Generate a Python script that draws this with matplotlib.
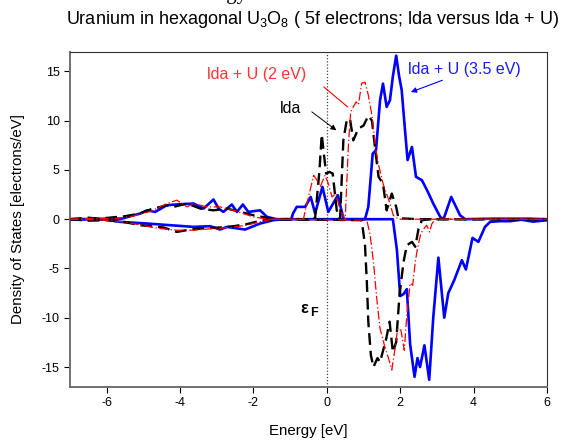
import numpy as np
import matplotlib
matplotlib.use("Agg")
import matplotlib.pyplot as plt

plt.rcParams['font.family'] = ['Liberation Sans', 'DejaVu Sans']
plt.rcParams['mathtext.fontset'] = 'custom'
plt.rcParams['mathtext.rm'] = 'Liberation Sans'
plt.rcParams['mathtext.it'] = 'Liberation Sans:italic'
plt.rcParams['mathtext.bf'] = 'Liberation Sans:bold'
plt.rcParams['axes.unicode_minus'] = False

# lda + U (3.5 eV), spin up / spin down
e_u35_up = [-7.0, -5.6, -5.45, -5.09, -4.90, -4.68, -4.36, -4.0, -3.63, -3.36, -3.09, -2.95,
            -2.82, -2.59, -2.45, -2.29, -2.14, -1.82, -1.63, -1.36, -0.97, -0.92, -0.82, -0.59,
            -0.44, -0.32, -0.12, 0.04, 0.30, 0.45, 0.5, 1.04, 1.13, 1.25, 1.34, 1.45, 1.53,
            1.63, 1.72, 1.80, 1.89, 1.97, 2.04, 2.12, 2.20, 2.32, 2.43, 2.59, 2.75, 2.90, 3.09,
            3.18, 3.39, 3.63, 3.77, 4.5, 5.5, 6.0]
d_u35_up = [0, 0.05, 0.2, 0.58, 0.9, 0.74, 1.42, 1.52, 1.59, 1.08, 2.0, 1.08,
            0.74, 1.49, 0.74, 1.49, 0.74, 0.9, 0.23, 0.0, 0.0, 0.6, 1.25, 1.25,
            2.26, 0.6, 3.28, 0.74, 2.43, 0.1, 0.0, 0.0, 1.25, 6.66, 7.0, 12.07, 13.76,
            11.4, 12.07, 14.5, 16.6, 14.5, 13.1, 9.5, 6.0, 7.33, 4.3, 3.96, 2.8, 1.59, 0.23,
            0.0, 2.26, 0.4, 0.0, 0.05, 0.05, 0.0]
e_u35_dn = [-7.0, -6.0, -5.63, -4.90, -4.27, -3.63, -3.18, -2.91, -2.72, -2.23, -1.82, -1.46,
            -1.2, 1.80, 1.91, 2.0, 2.09, 2.18, 2.27, 2.39, 2.47, 2.54, 2.66, 2.79, 2.90, 3.04,
            3.20, 3.31, 3.47, 3.68, 3.79, 3.97, 4.13, 4.31, 4.45, 4.72, 5.0, 5.3, 5.62, 6.0]
d_u35_dn = [0, -0.05, -0.27, -0.44, -0.61, -0.78, -0.71, -1.05, -0.78, -1.05, -0.44, -0.1,
            0, 0, -3.14, -7.8, -7.6, -7.1, -12.7, -16.0, -14.1, -15.0, -12.8, -16.3, -10.0, -3.9,
            -10.0, -7.5, -6.2, -4.16, -5.1, -1.9, -2.3, -0.78, -0.27, -0.2, -0.2, -0.05, -0.25, -0.1]

# lda, spin up / spin down
e_lda_up = [-7.0, -6.5, -6.2, -5.8, -5.5, -5.09, -4.8, -4.36, -4.18, -3.81, -3.45, -3.09,
            -2.72, -2.36, -2.0, -1.63, -1.3, -0.45, -0.32, -0.2, -0.14, -0.02, 0.07, 0.16,
            0.27, 0.36, 0.45, 0.54, 0.63, 0.72, 0.86, 1.0, 1.13, 1.23, 1.32, 1.41, 1.53,
            1.63, 1.77, 1.89, 1.95, 2.5, 6.0]
d_lda_up = [0, 0.15, 0.05, 0.2, 0.3, 0.58, 1.0, 1.42, 1.25, 1.59, 1.08, 0.9,
            1.08, 0.74, 0.4, 0.14, 0, 0, 0.1, 5.0, 8.6, 4.63, 4.8, 4.63,
            0.9, 0.0, 8.0, 10.0, 10.2, 8.0, 9.2, 9.5, 10.5, 10.0, 7.0, 4.3, 3.6,
            0.9, 2.6, 1.25, 0.1, 0, 0]
e_lda_dn = [-7.0, -6.5, -6.0, -5.5, -5.09, -4.45, -4.09, -3.72, -3.45, -2.91, -2.54, -2.18,
            -1.82, -1.5, 0.95, 1.04, 1.09, 1.13, 1.20, 1.27, 1.38, 1.45, 1.62, 1.71, 1.80,
            1.89, 1.98, 2.09, 2.18, 2.32, 2.41, 2.50, 2.59, 2.8, 6.0]
d_lda_dn = [0, -0.15, -0.1, -0.3, -0.61, -0.84, -1.29, -1.05, -0.95, -0.84, -0.71, -0.5,
            -0.17, 0, -0.1, -2.64, -6.36, -10.4, -13.8, -15.0, -14.1, -14.5, -12.1, -10.4, -13.5,
            -12.45, -7.7, -4.33, -2.64, -2.3, -2.8, -0.95, -0.1, 0, 0]

# lda + U (2 eV), spin up / spin down
e_u2_up = [-7.0, -6.3, -5.8, -5.3, -4.8, -4.36, -4.09, -3.81, -3.63, -3.27, -2.91, -2.54,
           -2.0, -1.6, -0.64, -0.5, -0.36, -0.27, -0.18, -0.05, 0.04, 0.14, 0.25, 0.36, 0.5,
           0.59, 0.65, 0.72, 0.80, 0.86, 0.95, 1.04, 1.13, 1.23, 1.32, 1.41, 1.54, 1.72,
           1.81, 1.95, 6.0]
d_u2_up = [0, 0.1, 0.05, 0.3, 0.8, 1.59, 1.93, 1.25, 1.59, 1.25, 1.25, 0.9,
           0.23, 0, 0, 2.26, 4.46, 3.96, 3.28, 4.46, 3.62, 2.26, 2.6, 0.9, 0,
           7.68, 10.9, 11.4, 11.9, 11.6, 13.8, 13.9, 12.6, 10.5, 7.5, 5.5, 3.5, 1.6,
           0.4, 0, 0]
e_u2_dn = [-7.0, -6.0, -5.5, -4.54, -4.09, -3.63, -3.09, -2.63, -2.18, -1.82, -1.5, 1.09,
           1.18, 1.27, 1.36, 1.45, 1.59, 1.68, 1.77, 1.86, 1.93, 2.02, 2.11, 2.18, 2.27,
           2.34, 2.41, 2.47, 2.56, 2.65, 2.72, 2.80, 2.86, 2.95, 6.0]
d_u2_dn = [0, -0.1, -0.3, -0.95, -1.12, -1.12, -0.95, -0.84, -0.6, -0.27, 0, -0.1,
           -1.6, -4.3, -8.05, -11.1, -13.1, -14.1, -15.3, -13.1, -11.1, -11.26, -13.3, -9.74, -6.5,
           -6.7, -4.33, -2.97, -1.45, -0.95, -0.61, -1.3, -0.5, 0, 0]

fig = plt.figure(figsize=(5.66, 4.41), dpi=100)
ax = fig.add_axes([0.1237, 0.1231, 0.8427, 0.7597])

ax.axvline(0, color='#444444', lw=0.9, ls=(0, (1, 1.5)), zorder=1)

blue_kw = dict(color='#0000ff', lw=1.9, zorder=2)
red_kw = dict(color='#ff0000', lw=0.9, ls=(0, (7, 2, 1, 2)), zorder=4)
black_kw = dict(color='black', lw=1.7, ls=(0, (5, 2.5)), zorder=3)

ax.plot(e_u35_up, d_u35_up, **blue_kw)
ax.plot(e_u35_dn, d_u35_dn, **blue_kw)
ax.plot(e_lda_up, d_lda_up, **black_kw)
ax.plot(e_lda_dn, d_lda_dn, **black_kw)
ax.plot(e_u2_up, d_u2_up, **red_kw)
ax.plot(e_u2_dn, d_u2_dn, **red_kw)

ax.set_xlim(-7, 6)
ax.set_ylim(-17, 17)
ax.set_xticks(np.arange(-6, 7, 2))
ax.set_yticks(np.arange(-15, 16, 5))
ax.tick_params(direction='out', length=4, width=0.8, labelsize=9, top=False, right=False)
for s in ['left', 'bottom']:
    ax.spines[s].set_color('#707070')
    ax.spines[s].set_linewidth(1.4)
for s in ['top', 'right']:
    ax.spines[s].set_color('#303030')
    ax.spines[s].set_linewidth(0.8)

ax.set_xlabel('Energy [eV]', fontsize=10.8, labelpad=11)
ax.set_ylabel('Density of States [electrons/eV]', fontsize=10.8, labelpad=12)

# annotations
ax.text(-3.26, 14.7, 'lda + U (2 eV)', color='#ff3333', fontsize=11.5, va='center', ha='left')
ax.annotate('', xy=(0.63, 11.2), xytext=(-0.14, 13.6),
            arrowprops=dict(arrowstyle='-', color='#ff0000', lw=0.8))
ax.text(-1.27, 11.2, 'lda', color='black', fontsize=11.5, va='center', ha='left')
ax.annotate('', xy=(0.32, 8.85), xytext=(-0.47, 11.06),
            arrowprops=dict(arrowstyle='-|>', color='black', lw=0.7, mutation_scale=8))
ax.text(2.22, 15.2, 'lda + U (3.5 eV)', color='#1a1aff', fontsize=11.5, va='center', ha='left')
ax.annotate('', xy=(2.22, 12.8), xytext=(3.22, 14.2),
            arrowprops=dict(arrowstyle='-|>', color='#0000ff', lw=0.8, mutation_scale=8))
ax.text(-0.74, -9.0, r'$\mathbf{\varepsilon}$', fontsize=12, va='center', ha='left',
        family=['DejaVu Sans'])
ax.text(-0.45, -9.5, 'F', fontsize=9, weight='bold', va='center', ha='left')

fig.text(0.552, 0.955, 'Uranium in hexagonal U$_3$O$_8$ ( 5f electrons; lda versus lda + U)',
         fontsize=13, ha='center', va='center')
fig.text(0.438, 1.003, 'Energy', fontsize=15, family='Liberation Serif', ha='right', va='baseline')

fig.savefig('out.png', dpi=100)
